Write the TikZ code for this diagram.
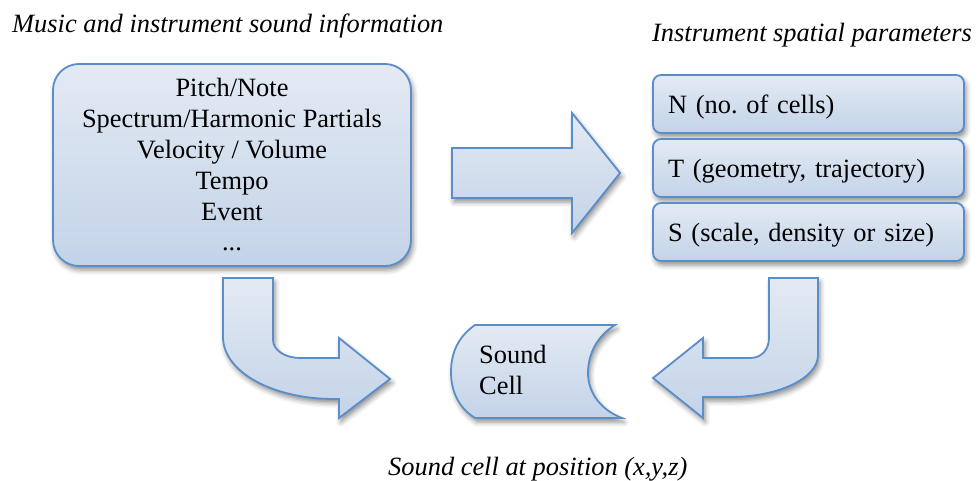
\documentclass[tikz,border=0pt]{standalone}
\usepackage{fontspec}
\setmainfont{Liberation Serif}
\usetikzlibrary{shadows.blur}
\definecolor{bord}{HTML}{5B8DC8}
\definecolor{ftop}{HTML}{E3EAF3}
\definecolor{fbot}{HTML}{C3D3E8}
\newcommand\bigfont{\fontsize{26.4}{30.8}\selectfont}
\frenchspacing
\tikzset{
  fillgrad/.style={top color=ftop, bottom color=fbot, draw=bord, line width=1.8pt},
  shad/.style={blur shadow={shadow xshift=2pt, shadow yshift=-4pt, shadow blur radius=5pt, shadow opacity=45}},
  bigbox/.style={fillgrad, shad, rounded corners=26pt, minimum width=358pt, minimum height=202pt, align=center, inner sep=0pt, font=\bigfont},
  parbox/.style={fillgrad, shad, rounded corners=8pt, minimum width=311pt, minimum height=58pt, text width=281pt, inner xsep=15pt, text height=20pt, text depth=0pt, align=left, font=\bigfont},
  titletext/.style={font=\bigfont\itshape, inner sep=0pt, anchor=base west},
  celltext/.style={font=\bigfont, inner sep=0pt, anchor=north west, align=left},
  blockarrow/.style={fillgrad, shad, line join=miter},
}
\begin{document}
\begin{tikzpicture}[x=1pt,y=-1pt]
\useasboundingbox (0,0) rectangle (978,481);

% titles
\node[titletext] (t1) at (12,33) {Music and instrument sound information};
\node[titletext] (t2) at (652,42) {Instrument spatial parameters};
\node[titletext] (t3) at (388,475) {Sound cell at position (x,y,z)};

% left info box
\node[bigbox] (info) at (232,165) {Pitch/Note\\Spectrum/Harmonic Partials\\Velocity / Volume\\Tempo\\Event\\...};

% right parameter boxes
\node[parbox] (pN) at (808.5,104) {N (no.\ of cells)};
\node[parbox] (pT) at (808.5,168) {T (geometry, trajectory)};
\node[parbox] (pS) at (808.5,232) {S (scale, density or size)};

% straight block arrow
\path[blockarrow] (452,148) -- (572,148) -- (572,113) -- (620,173) -- (572,233) -- (572,198) -- (452,198) -- cycle;

% left bent arrow
\path[blockarrow] (223,278) -- (273,278) -- (273,340)
  .. controls (273,350) and (285,358) .. (300,358) -- (339,358) -- (339,338)
  -- (390,379) -- (339,418) -- (339,399) -- (334,399)
  .. controls (273,399) and (223,372) .. (223,337) -- cycle;

% right bent arrow
\path[blockarrow] (818,278) -- (769,278) -- (769,338)
  .. controls (769,349) and (762,358) .. (750,358) -- (703,358) -- (703,338)
  -- (653,378) -- (703,418) -- (703,397) -- (730,397)
  .. controls (779,397) and (818,378) .. (818,355) -- cycle;

% sound cell (stored data shape)
\path[blockarrow] (475,325) -- (615,325)
  .. controls (597,336) and (588,354) .. (588,373)
  .. controls (588,393) and (601,410) .. (622,418)
  -- (475,418)
  .. controls (459,408) and (451,392) .. (451,372)
  .. controls (451,352) and (459,336) .. (475,325) -- cycle;
\node[celltext] (cell) at (479,345) {Sound\\Cell};
\end{tikzpicture}
\end{document}
